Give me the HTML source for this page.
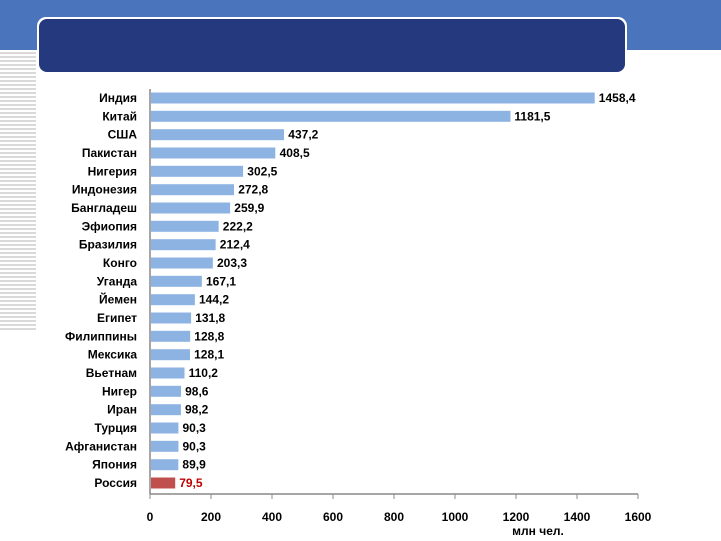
<!DOCTYPE html>
<html><head><meta charset="utf-8"><style>
body{margin:0;width:721px;height:541px;overflow:hidden;background:#fff;}
</style></head><body>
<svg width="721" height="541" xmlns="http://www.w3.org/2000/svg" style="display:block">
<defs><pattern id="st" width="4" height="4" patternUnits="userSpaceOnUse"><rect width="4" height="2" fill="#d9d9d9"/></pattern></defs>
<rect x="0" y="0" width="721" height="50" fill="#4a74bb"/>
<rect x="0" y="52" width="36" height="280" fill="url(#st)"/>
<rect x="37" y="17" width="590" height="57" rx="9" fill="#fff"/>
<rect x="39" y="19" width="586" height="53" rx="8" fill="#24397e"/>
<g font-family="Liberation Sans, sans-serif" font-weight="bold" font-size="12" fill="#000" transform="translate(-2,0)">
<line x1="152" y1="89" x2="152" y2="494" stroke="#888" stroke-width="1.5"/>
<line x1="152" y1="494" x2="640" y2="494" stroke="#888" stroke-width="1.5"/>
<g fill="#8db3e2" transform="translate(153,0) scale(0.9975,1) translate(-153,0)">
<rect x="153" y="92.5" width="444.8" height="11"/>
<rect x="153" y="110.8" width="360.4" height="11"/>
<rect x="153" y="129.2" width="133.3" height="11"/>
<rect x="153" y="147.5" width="124.6" height="11"/>
<rect x="153" y="165.8" width="92.3" height="11"/>
<rect x="153" y="184.2" width="83.2" height="11"/>
<rect x="153" y="202.5" width="79.3" height="11"/>
<rect x="153" y="220.8" width="67.8" height="11"/>
<rect x="153" y="239.2" width="64.8" height="11"/>
<rect x="153" y="257.5" width="62" height="11"/>
<rect x="153" y="275.8" width="51" height="11"/>
<rect x="153" y="294.2" width="44" height="11"/>
<rect x="153" y="312.5" width="40.2" height="11"/>
<rect x="153" y="330.8" width="39.3" height="11"/>
<rect x="153" y="349.2" width="39.1" height="11"/>
<rect x="153" y="367.5" width="33.6" height="11"/>
<rect x="153" y="385.8" width="30.1" height="11"/>
<rect x="153" y="404.2" width="30" height="11"/>
<rect x="153" y="422.5" width="27.5" height="11"/>
<rect x="153" y="440.8" width="27.5" height="11"/>
<rect x="153" y="459.2" width="27.4" height="11"/>
</g>
<rect x="153" y="477.5" width="24.2" height="11" fill="#c0504d"/>
<g text-anchor="end">
<text x="139" y="102">Индия</text>
<text x="139" y="120.3">Китай</text>
<text x="139" y="138.7">США</text>
<text x="139" y="157">Пакистан</text>
<text x="139" y="175.3">Нигерия</text>
<text x="139" y="193.7">Индонезия</text>
<text x="139" y="212">Бангладеш</text>
<text x="139" y="230.3">Эфиопия</text>
<text x="139" y="248.7">Бразилия</text>
<text x="139" y="267">Конго</text>
<text x="139" y="285.3">Уганда</text>
<text x="139" y="303.7">Йемен</text>
<text x="139" y="322">Египет</text>
<text x="139" y="340.3">Филиппины</text>
<text x="139" y="358.7">Мексика</text>
<text x="139" y="377">Вьетнам</text>
<text x="139" y="395.3">Нигер</text>
<text x="139" y="413.7">Иран</text>
<text x="139" y="432">Турция</text>
<text x="139" y="450.3">Афганистан</text>
<text x="139" y="468.7">Япония</text>
<text x="139" y="487">Россия</text>
</g>
<text x="600.8" y="102">1458,4</text>
<text x="516.4" y="120.3">1181,5</text>
<text x="290.3" y="138.7">437,2</text>
<text x="281.6" y="157">408,5</text>
<text x="249.3" y="175.3">302,5</text>
<text x="240.2" y="193.7">272,8</text>
<text x="236.3" y="212">259,9</text>
<text x="224.8" y="230.3">222,2</text>
<text x="221.8" y="248.7">212,4</text>
<text x="219" y="267">203,3</text>
<text x="208" y="285.3">167,1</text>
<text x="201" y="303.7">144,2</text>
<text x="197.2" y="322">131,8</text>
<text x="196.3" y="340.3">128,8</text>
<text x="196.1" y="358.7">128,1</text>
<text x="190.6" y="377">110,2</text>
<text x="187.1" y="395.3">98,6</text>
<text x="187" y="413.7">98,2</text>
<text x="184.5" y="432">90,3</text>
<text x="184.5" y="450.3">90,3</text>
<text x="184.4" y="468.7">89,9</text>
<text x="181.2" y="487" fill="#c00000">79,5</text>
<g stroke="#888">
<line x1="152" y1="494" x2="152" y2="499"/><line x1="213" y1="494" x2="213" y2="499"/><line x1="274" y1="494" x2="274" y2="499"/><line x1="335" y1="494" x2="335" y2="499"/><line x1="396" y1="494" x2="396" y2="499"/><line x1="457" y1="494" x2="457" y2="499"/><line x1="518" y1="494" x2="518" y2="499"/><line x1="579" y1="494" x2="579" y2="499"/><line x1="640" y1="494" x2="640" y2="499"/>
</g>
<g text-anchor="middle">
<text x="152" y="521">0</text><text x="213" y="521">200</text><text x="274" y="521">400</text><text x="335" y="521">600</text><text x="396" y="521">800</text><text x="457" y="521">1000</text><text x="518" y="521">1200</text><text x="579" y="521">1400</text><text x="640" y="521">1600</text>
<text x="540" y="535">млн чел.</text>
</g>
</g>
</svg>
</body></html>
